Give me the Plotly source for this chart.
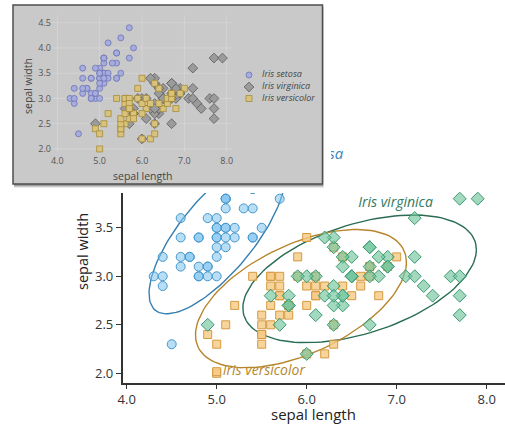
import numpy as np
import plotly.graph_objects as go

# ---------------- data (Fisher's iris, sepal measurements) ----------------
setosa_length = [5.1, 4.9, 4.7, 4.6, 5.0, 5.4, 4.6, 5.0, 4.4, 4.9, 5.4, 4.8, 4.8, 4.3, 5.8, 5.7, 5.4, 5.1, 5.7, 5.1,
                 5.4, 5.1, 4.6, 5.1, 4.8, 5.0, 5.0, 5.2, 5.2, 4.7, 4.8, 5.4, 5.2, 5.5, 4.9, 5.0, 5.5, 4.9, 4.4, 5.1,
                 5.0, 4.5, 4.4, 5.0, 5.1, 4.8, 5.1, 4.6, 5.3, 5.0]
setosa_width = [3.5, 3.0, 3.2, 3.1, 3.6, 3.9, 3.4, 3.4, 2.9, 3.1, 3.7, 3.4, 3.0, 3.0, 4.0, 4.4, 3.9, 3.5, 3.8, 3.8,
                3.4, 3.7, 3.6, 3.3, 3.4, 3.0, 3.4, 3.5, 3.4, 3.2, 3.1, 3.4, 4.1, 4.2, 3.1, 3.2, 3.5, 3.6, 3.0, 3.4,
                3.5, 2.3, 3.2, 3.5, 3.8, 3.0, 3.8, 3.2, 3.7, 3.3]
versicolor_length = [7.0, 6.4, 6.9, 5.5, 6.5, 5.7, 6.3, 4.9, 6.6, 5.2, 5.0, 5.9, 6.0, 6.1, 5.6, 6.7, 5.6, 5.8, 6.2, 5.6,
                     5.9, 6.1, 6.3, 6.1, 6.4, 6.6, 6.8, 6.7, 6.0, 5.7, 5.5, 5.5, 5.8, 6.0, 5.4, 6.0, 6.7, 6.3, 5.6, 5.5,
                     5.5, 6.1, 5.8, 5.0, 5.6, 5.7, 5.7, 6.2, 5.1, 5.7]
versicolor_width = [3.2, 3.2, 3.1, 2.3, 2.8, 2.8, 3.3, 2.4, 2.9, 2.7, 2.0, 3.0, 2.2, 2.9, 2.9, 3.1, 3.0, 2.7, 2.2, 2.5,
                    3.2, 2.8, 2.5, 2.8, 2.9, 3.0, 2.8, 3.0, 2.9, 2.6, 2.4, 2.4, 2.7, 2.7, 3.0, 3.4, 3.1, 2.3, 3.0, 2.5,
                    2.6, 3.0, 2.6, 2.3, 2.7, 3.0, 2.9, 2.9, 2.5, 2.8]
virginica_length = [6.3, 5.8, 7.1, 6.3, 6.5, 7.6, 4.9, 7.3, 6.7, 7.2, 6.5, 6.4, 6.8, 5.7, 5.8, 6.4, 6.5, 7.7, 7.7, 6.0,
                    6.9, 5.6, 7.7, 6.3, 6.7, 7.2, 6.2, 6.1, 6.4, 7.2, 7.4, 7.9, 6.4, 6.3, 6.1, 7.7, 6.3, 6.4, 6.0, 6.9,
                    6.7, 6.9, 5.8, 6.8, 6.7, 6.7, 6.3, 6.5, 6.2, 5.9]
virginica_width = [3.3, 2.7, 3.0, 2.9, 3.0, 3.0, 2.5, 2.9, 2.5, 3.6, 3.2, 2.7, 3.0, 2.5, 2.8, 3.2, 3.0, 3.8, 2.6, 2.2,
                   3.2, 2.8, 2.8, 2.7, 3.3, 3.2, 2.8, 3.0, 2.8, 3.0, 2.8, 3.8, 2.8, 2.8, 2.6, 3.0, 3.4, 3.1, 3.0, 3.1,
                   3.1, 3.1, 2.7, 3.2, 3.3, 3.0, 2.5, 3.0, 3.4, 3.0]

species_names = ["Iris setosa", "Iris virginica", "Iris versicolor"]
# size of each concentration ellipse in standard deviations
ellipse_sd = [2.15, 2.04, 2.27]
x_ticks = [4.0, 5.0, 6.0, 7.0, 8.0]
y_ticks_main = [2.0, 2.5, 3.0, 3.5, 4.0]
y_ticks_inset = [2.0, 2.5, 3.0, 3.5, 4.0, 4.5]
axis_x_title = "sepal length"
axis_y_title = "sepal width"

# ---------------- layout geometry ----------------
W, H = 505, 425
FONT = "Open Sans"


def px(xp):
    return xp / W


def py(yp):
    return 1 - yp / H


# main plot scale: value 4.0 at x=126.7px, 90 px/unit; 2.0 at y=373.3px, 97 px/unit
def mx(xp):
    return 4.0 + (xp - 126.7) / 90.0


def my(yp):
    return 2.0 + (373.3 - yp) / 97.0


# inset scale: 4.0 at x=57.3px, 42.35 px/unit; 4.5 at y=22.7px, 50.5 px/unit
def ix(xp):
    return 4.0 + (xp - 57.3) / 42.35


def iy(yp):
    return 4.5 - (yp - 22.7) / 50.5


MAIN_L, MAIN_R, MAIN_B, MAIN_T = 122.7, 505, 382.7, 130
INS_L, INS_R, INS_T, INS_B = 9, 331, 2, 193          # inset subplot domain (incl. shadow)
BOX_L, BOX_R, BOX_T, BOX_B = 13, 322.5, 5, 184       # visible inset panel

# colours
C_SET_FILL, C_SET_LINE, C_SET_ELL = "rgba(125,195,238,0.55)", "#4597cc", "#3580b0"
C_VIR_FILL, C_VIR_LINE, C_VIR_ELL = "rgba(112,196,156,0.65)", "#3c9a72", "#2a6d52"
C_VER_FILL, C_VER_LINE, C_VER_ELL = "rgba(246,201,132,0.8)", "#d49a40", "#b8852c"


def ellipse(xs, ys, k, n=120):
    x = np.asarray(xs, float)
    y = np.asarray(ys, float)
    L = np.linalg.cholesky(np.cov(x, y))
    t = np.linspace(0, 2 * np.pi, n)
    pts = k * (L @ np.vstack([np.cos(t), np.sin(t)]))
    return x.mean() + pts[0], y.mean() + pts[1]


fig = go.Figure()

# ---- main plot: ellipses
for xs, ys, k, col in [(setosa_length, setosa_width, ellipse_sd[0], C_SET_ELL),
                       (virginica_length, virginica_width, ellipse_sd[1], C_VIR_ELL),
                       (versicolor_length, versicolor_width, ellipse_sd[2], C_VER_ELL)]:
    ex, ey = ellipse(xs, ys, k)
    fig.add_trace(go.Scatter(x=ex, y=ey, mode="lines", line=dict(color=col, width=1.4),
                             hoverinfo="skip", xaxis="x", yaxis="y"))

# ---- main plot: points
fig.add_trace(go.Scatter(x=setosa_length, y=setosa_width, mode="markers", name=species_names[0],
                         marker=dict(symbol="circle", size=9, color=C_SET_FILL,
                                     line=dict(color=C_SET_LINE, width=1)), xaxis="x", yaxis="y"))
fig.add_trace(go.Scatter(x=versicolor_length, y=versicolor_width, mode="markers", name=species_names[2],
                         marker=dict(symbol="square", size=8, color=C_VER_FILL,
                                     line=dict(color=C_VER_LINE, width=1)), xaxis="x", yaxis="y"))
fig.add_trace(go.Scatter(x=virginica_length, y=virginica_width, mode="markers", name=species_names[1],
                         marker=dict(symbol="diamond", size=10, color=C_VIR_FILL,
                                     line=dict(color=C_VIR_LINE, width=1)), xaxis="x", yaxis="y"))

# ---- main plot: direct labels
fig.add_trace(go.Scatter(x=[mx(310)], y=[my(155.5)], mode="text", text=["<i>%s</i>" % species_names[0]],
                         textposition="middle center", textfont=dict(family=FONT, size=15, color="#3a86b8"),
                         hoverinfo="skip", xaxis="x", yaxis="y"))
fig.add_trace(go.Scatter(x=[mx(395.5)], y=[my(203)], mode="text", text=["<i>%s</i>" % species_names[1]],
                         textposition="middle center", textfont=dict(family=FONT, size=14, color="#2f7a5e"),
                         hoverinfo="skip", xaxis="x", yaxis="y"))
fig.add_trace(go.Scatter(x=[mx(216.7)], y=[my(371.7)], mode="markers+text", text=["<i>%s</i>" % species_names[2]],
                         textposition="middle right", textfont=dict(family=FONT, size=14, color="#b5862c"),
                         marker=dict(symbol="square", size=8, color=C_VER_FILL,
                                     line=dict(color=C_VER_LINE, width=1)),
                         hoverinfo="skip", xaxis="x", yaxis="y"))

# ---- inset: points
fig.add_trace(go.Scatter(x=setosa_length, y=setosa_width, mode="markers",
                         marker=dict(symbol="circle", size=6, color="#a6acdc", line=dict(color="#6d74b6", width=0.8)),
                         xaxis="x2", yaxis="y2", hoverinfo="skip"))
fig.add_trace(go.Scatter(x=virginica_length, y=virginica_width, mode="markers",
                         marker=dict(symbol="diamond", size=7.5, color="#9b9b9b", line=dict(color="#5a5a5a", width=0.8)),
                         xaxis="x2", yaxis="y2", hoverinfo="skip"))
fig.add_trace(go.Scatter(x=versicolor_length, y=versicolor_width, mode="markers",
                         marker=dict(symbol="square", size=6, color="#d9c27a", line=dict(color="#a68c3b", width=0.8)),
                         xaxis="x2", yaxis="y2", hoverinfo="skip"))

# ---- inset: legend (manual)
leg_y = [75, 87, 98.5]
leg_marker = [dict(symbol="circle", size=6, color="#a6acdc", line=dict(color="#6d74b6", width=0.8)),
              dict(symbol="diamond", size=7.5, color="#9b9b9b", line=dict(color="#5a5a5a", width=0.8)),
              dict(symbol="square", size=6, color="#d9c27a", line=dict(color="#a68c3b", width=0.8))]
for name, yy, mk in zip(species_names, leg_y, leg_marker):
    fig.add_trace(go.Scatter(x=[ix(249)], y=[iy(yy)], mode="markers", marker=mk,
                             xaxis="x2", yaxis="y2", hoverinfo="skip"))
    fig.add_trace(go.Scatter(x=[ix(262)], y=[iy(yy)], mode="text", text=["<i>%s</i>" % name],
                             textposition="middle right", textfont=dict(family=FONT, size=9, color="#444"),
                             xaxis="x2", yaxis="y2", hoverinfo="skip"))

# ---- inset panel shapes (drawn in the inset subplot's lower shape layer, above the main plot)
shapes = []
for offx, offy, alpha in [(1.5, 4, 0.08), (1, 3, 0.14), (0.5, 2, 0.22)]:
    shapes.append(dict(type="rect", xref="x2", yref="y2", layer="below",
                       x0=ix(BOX_L + 1), x1=ix(BOX_R + offx), y0=iy(BOX_B + offy), y1=iy(BOX_T + 2),
                       line=dict(width=0), fillcolor="rgba(0,0,0,%g)" % alpha))
shapes.append(dict(type="rect", xref="x2", yref="y2", layer="below",
                   x0=ix(BOX_L), x1=ix(BOX_R), y0=iy(BOX_B), y1=iy(BOX_T),
                   line=dict(color="#4d4d4d", width=1.5), fillcolor="#c9c9c9"))
for xv in x_ticks:
    shapes.append(dict(type="line", xref="x2", yref="y2", layer="below",
                       x0=xv, x1=xv, y0=iy(152), y1=iy(15),
                       line=dict(color="rgba(225,225,225,0.55)", width=0.8)))
for yv in y_ticks_inset:
    shapes.append(dict(type="line", xref="x2", yref="y2", layer="below",
                       x0=ix(52), x1=ix(232), y0=yv, y1=yv,
                       line=dict(color="rgba(225,225,225,0.55)", width=0.8)))

annotations = [
    dict(text=axis_x_title, xref="paper", yref="paper", x=px(313.5), y=py(414), showarrow=False,
         font=dict(family=FONT, size=15, color="#222"), xanchor="center", yanchor="middle"),
    dict(text=axis_y_title, xref="paper", yref="paper", x=px(83), y=py(252), showarrow=False, textangle=-90,
         font=dict(family=FONT, size=14.5, color="#222"), xanchor="center", yanchor="middle"),
    dict(text=axis_x_title, xref="paper", yref="paper", x=px(142), y=py(175.5), showarrow=False,
         font=dict(family=FONT, size=10.5, color="#444"), xanchor="center", yanchor="middle"),
    dict(text=axis_y_title, xref="paper", yref="paper", x=px(28), y=py(86), showarrow=False, textangle=-90,
         font=dict(family=FONT, size=10.5, color="#444"), xanchor="center", yanchor="middle"),
]

fig.update_layout(
    width=W, height=H, margin=dict(l=0, r=0, t=0, b=0),
    paper_bgcolor="white", plot_bgcolor="white", showlegend=False,
    font=dict(family=FONT, color="#333"),
    shapes=shapes, annotations=annotations,
    xaxis=dict(domain=[px(MAIN_L), px(MAIN_R)], range=[mx(MAIN_L), mx(MAIN_R)], anchor="y",
               showline=True, linecolor="#333", linewidth=1.6, ticks="outside", ticklen=4, tickwidth=1.3,
               tickcolor="#333", tickvals=x_ticks, ticktext=["%.1f" % v for v in x_ticks],
               tickfont=dict(family=FONT, size=13, color="#333"), showgrid=False, zeroline=False,
               automargin=False),
    yaxis=dict(domain=[py(MAIN_B), py(MAIN_T)], range=[my(MAIN_B), my(MAIN_T)], anchor="x",
               showline=True, linecolor="#333", linewidth=1.6, ticks="outside", ticklen=5, tickwidth=1.3,
               tickcolor="#333", tickvals=y_ticks_main, ticktext=["%.1f" % v for v in y_ticks_main],
               tickfont=dict(family=FONT, size=13, color="#333"), showgrid=False, zeroline=False,
               automargin=False),
    xaxis2=dict(domain=[px(INS_L), px(INS_R)], range=[ix(INS_L), ix(INS_R)], anchor="free",
                position=py(154), showline=False, ticks="", showgrid=False, zeroline=False,
                tickvals=x_ticks, ticktext=["%.1f" % v for v in x_ticks],
                tickfont=dict(family=FONT, size=9, color="#555"), automargin=False),
    yaxis2=dict(domain=[py(INS_B), py(INS_T)], range=[iy(INS_B), iy(INS_T)], anchor="free",
                position=px(51), showline=False, ticks="", showgrid=False, zeroline=False,
                tickvals=y_ticks_inset, ticktext=["%.1f" % v for v in y_ticks_inset],
                tickfont=dict(family=FONT, size=9, color="#555"), automargin=False),
)

# remove the browser's default page margin so the 505x425 figure fills the window exactly
fig.write_html("out.html", config={"displayModeBar": False},
               post_script="document.body.style.margin='0';document.body.style.padding='0';")
